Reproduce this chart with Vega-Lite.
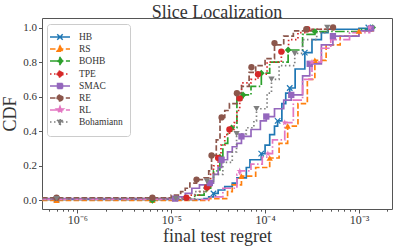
{
"$schema": "https://vega.github.io/schema/vega-lite/v6.json",
"width": 350, "height": 191,
"autosize": {"type": "none"},
"padding": {"left": 42, "top": 18, "right": 7, "bottom": 39},
"title": {"text": "Slice Localization", "fontSize": 18, "font": "Liberation Serif", "fontWeight": "normal", "color": "#333", "offset": -4, "frame": "group", "anchor": "middle"},
"config": {
  "font": "Liberation Serif",
  "view": {"stroke": "#555", "strokeWidth": 1},
  "axis": {"grid": false, "domain": false, "labelFont": "Liberation Serif", "titleFont": "Liberation Serif", "labelColor": "#333", "titleColor": "#333", "tickColor": "#555", "labelFontSize": 11, "titleFontSize": 18, "titleFontWeight": "normal"},
  "legend": {"labelFont": "Liberation Serif", "labelFontSize": 9.5, "labelColor": "#333"}
},
"datasets": {
"curves": [
{"s":"HB","x":4.2e-7,"y":0.005},{"s":"HB","x":1.58e-5,"y":0.005},{"s":"HB","x":2.24e-5,"y":0.01},{"s":"HB","x":2.51e-5,"y":0.02},{"s":"HB","x":2.82e-5,"y":0.04},{"s":"HB","x":3.16e-5,"y":0.06},{"s":"HB","x":3.72e-5,"y":0.08},{"s":"HB","x":4.47e-5,"y":0.10},{"s":"HB","x":5.01e-5,"y":0.13},{"s":"HB","x":6.31e-5,"y":0.19},{"s":"HB","x":6.9e-5,"y":0.235},{"s":"HB","x":9.1e-5,"y":0.27},{"s":"HB","x":1.0e-4,"y":0.32},{"s":"HB","x":1.12e-4,"y":0.38},{"s":"HB","x":1.26e-4,"y":0.43},{"s":"HB","x":1.36e-4,"y":0.46},{"s":"HB","x":1.51e-4,"y":0.56},{"s":"HB","x":1.66e-4,"y":0.62},{"s":"HB","x":1.83e-4,"y":0.65},{"s":"HB","x":2.09e-4,"y":0.76},{"s":"HB","x":2.65e-4,"y":0.855},{"s":"HB","x":3.16e-4,"y":0.93},{"s":"HB","x":3.98e-4,"y":0.97},{"s":"HB","x":4.68e-4,"y":0.99},{"s":"HB","x":1.0e-3,"y":0.995},{"s":"HB","x":1.26e-3,"y":1.0},
{"s":"RS","x":4.2e-7,"y":0.0},{"s":"RS","x":1.78e-5,"y":0.0},{"s":"RS","x":2.51e-5,"y":0.01},{"s":"RS","x":3.98e-5,"y":0.05},{"s":"RS","x":4.47e-5,"y":0.09},{"s":"RS","x":5.6e-5,"y":0.14},{"s":"RS","x":7.94e-5,"y":0.19},{"s":"RS","x":1.12e-4,"y":0.245},{"s":"RS","x":1.41e-4,"y":0.33},{"s":"RS","x":1.74e-4,"y":0.43},{"s":"RS","x":2.24e-4,"y":0.56},{"s":"RS","x":2.82e-4,"y":0.70},{"s":"RS","x":3.39e-4,"y":0.81},{"s":"RS","x":4.47e-4,"y":0.90},{"s":"RS","x":6.31e-4,"y":0.95},{"s":"RS","x":1.0e-3,"y":0.98},{"s":"RS","x":1.41e-3,"y":0.995},
{"s":"BOHB","x":4.2e-7,"y":0.005},{"s":"BOHB","x":1.26e-5,"y":0.005},{"s":"BOHB","x":1.78e-5,"y":0.03},{"s":"BOHB","x":2.24e-5,"y":0.05},{"s":"BOHB","x":2.4e-5,"y":0.07},{"s":"BOHB","x":2.63e-5,"y":0.12},{"s":"BOHB","x":2.82e-5,"y":0.17},{"s":"BOHB","x":3.3e-5,"y":0.25},{"s":"BOHB","x":3.55e-5,"y":0.33},{"s":"BOHB","x":4.0e-5,"y":0.40},{"s":"BOHB","x":4.4e-5,"y":0.42},{"s":"BOHB","x":5.01e-5,"y":0.58},{"s":"BOHB","x":5.83e-5,"y":0.61},{"s":"BOHB","x":7.08e-5,"y":0.66},{"s":"BOHB","x":9.12e-5,"y":0.736},{"s":"BOHB","x":1.12e-4,"y":0.80},{"s":"BOHB","x":1.76e-4,"y":0.87},{"s":"BOHB","x":2.51e-4,"y":0.96},{"s":"BOHB","x":3.39e-4,"y":0.977},{"s":"BOHB","x":1.0e-3,"y":0.99},{"s":"BOHB","x":1.4e-3,"y":1.0},
{"s":"TPE","x":4.2e-7,"y":0.01},{"s":"TPE","x":1.0e-5,"y":0.015},{"s":"TPE","x":1.58e-5,"y":0.03},{"s":"TPE","x":2.0e-5,"y":0.05},{"s":"TPE","x":2.4e-5,"y":0.075},{"s":"TPE","x":2.63e-5,"y":0.15},{"s":"TPE","x":2.82e-5,"y":0.2},{"s":"TPE","x":3.16e-5,"y":0.245},{"s":"TPE","x":3.39e-5,"y":0.32},{"s":"TPE","x":3.72e-5,"y":0.38},{"s":"TPE","x":4.17e-5,"y":0.41},{"s":"TPE","x":4.68e-5,"y":0.45},{"s":"TPE","x":5.01e-5,"y":0.52},{"s":"TPE","x":5.37e-5,"y":0.59},{"s":"TPE","x":5.62e-5,"y":0.68},{"s":"TPE","x":7.08e-5,"y":0.70},{"s":"TPE","x":8.41e-5,"y":0.73},{"s":"TPE","x":1.05e-4,"y":0.80},{"s":"TPE","x":1.49e-4,"y":0.86},{"s":"TPE","x":1.78e-4,"y":0.93},{"s":"TPE","x":2.24e-4,"y":0.97},{"s":"TPE","x":2.82e-4,"y":0.99},{"s":"TPE","x":5.0e-4,"y":1.0},
{"s":"SMAC","x":4.2e-7,"y":0.01},{"s":"SMAC","x":6.3e-6,"y":0.01},{"s":"SMAC","x":1.12e-5,"y":0.02},{"s":"SMAC","x":1.41e-5,"y":0.04},{"s":"SMAC","x":1.66e-5,"y":0.07},{"s":"SMAC","x":2.0e-5,"y":0.09},{"s":"SMAC","x":2.58e-5,"y":0.10},{"s":"SMAC","x":2.82e-5,"y":0.15},{"s":"SMAC","x":3.16e-5,"y":0.19},{"s":"SMAC","x":3.44e-5,"y":0.235},{"s":"SMAC","x":3.98e-5,"y":0.28},{"s":"SMAC","x":4.47e-5,"y":0.31},{"s":"SMAC","x":5.01e-5,"y":0.33},{"s":"SMAC","x":5.6e-5,"y":0.37},{"s":"SMAC","x":7.08e-5,"y":0.41},{"s":"SMAC","x":8.91e-5,"y":0.46},{"s":"SMAC","x":1.03e-4,"y":0.485},{"s":"SMAC","x":1.26e-4,"y":0.53},{"s":"SMAC","x":1.58e-4,"y":0.58},{"s":"SMAC","x":1.9e-4,"y":0.61},{"s":"SMAC","x":2.51e-4,"y":0.72},{"s":"SMAC","x":2.99e-4,"y":0.79},{"s":"SMAC","x":3.98e-4,"y":0.90},{"s":"SMAC","x":5.28e-4,"y":0.95},{"s":"SMAC","x":1.0e-3,"y":0.98},{"s":"SMAC","x":1.35e-3,"y":0.995},
{"s":"RE","x":4.2e-7,"y":0.015},{"s":"RE","x":6.3e-6,"y":0.015},{"s":"RE","x":1.0e-5,"y":0.03},{"s":"RE","x":1.26e-5,"y":0.05},{"s":"RE","x":1.41e-5,"y":0.07},{"s":"RE","x":1.58e-5,"y":0.10},{"s":"RE","x":1.86e-5,"y":0.12},{"s":"RE","x":2.24e-5,"y":0.13},{"s":"RE","x":2.51e-5,"y":0.17},{"s":"RE","x":2.69e-5,"y":0.26},{"s":"RE","x":3.02e-5,"y":0.35},{"s":"RE","x":3.31e-5,"y":0.48},{"s":"RE","x":3.72e-5,"y":0.52},{"s":"RE","x":4.17e-5,"y":0.56},{"s":"RE","x":5.01e-5,"y":0.62},{"s":"RE","x":5.62e-5,"y":0.66},{"s":"RE","x":6.76e-5,"y":0.74},{"s":"RE","x":7.94e-5,"y":0.78},{"s":"RE","x":1.0e-4,"y":0.82},{"s":"RE","x":1.26e-4,"y":0.90},{"s":"RE","x":1.58e-4,"y":0.95},{"s":"RE","x":2.0e-4,"y":0.98},{"s":"RE","x":3.16e-4,"y":0.99},{"s":"RE","x":5.3e-4,"y":1.0},
{"s":"RL","x":4.2e-7,"y":0.005},{"s":"RL","x":1.78e-5,"y":0.005},{"s":"RL","x":2.51e-5,"y":0.02},{"s":"RL","x":3.55e-5,"y":0.07},{"s":"RL","x":5.01e-5,"y":0.15},{"s":"RL","x":5.37e-5,"y":0.17},{"s":"RL","x":7.08e-5,"y":0.21},{"s":"RL","x":9.33e-5,"y":0.25},{"s":"RL","x":1.07e-4,"y":0.27},{"s":"RL","x":1.2e-4,"y":0.35},{"s":"RL","x":1.62e-4,"y":0.45},{"s":"RL","x":2.0e-4,"y":0.58},{"s":"RL","x":2.51e-4,"y":0.70},{"s":"RL","x":3.16e-4,"y":0.80},{"s":"RL","x":3.98e-4,"y":0.88},{"s":"RL","x":5.01e-4,"y":0.93},{"s":"RL","x":7.94e-4,"y":0.97},{"s":"RL","x":1.3e-3,"y":1.0},
{"s":"Bohamiann","x":4.2e-7,"y":0.01},{"s":"Bohamiann","x":1.26e-5,"y":0.01},{"s":"Bohamiann","x":1.78e-5,"y":0.05},{"s":"Bohamiann","x":2.24e-5,"y":0.09},{"s":"Bohamiann","x":2.4e-5,"y":0.11},{"s":"Bohamiann","x":2.82e-5,"y":0.15},{"s":"Bohamiann","x":3.55e-5,"y":0.22},{"s":"Bohamiann","x":4.47e-5,"y":0.28},{"s":"Bohamiann","x":4.97e-5,"y":0.385},{"s":"Bohamiann","x":6.31e-5,"y":0.42},{"s":"Bohamiann","x":7.6e-5,"y":0.46},{"s":"Bohamiann","x":8.1e-5,"y":0.53},{"s":"Bohamiann","x":1.05e-4,"y":0.62},{"s":"Bohamiann","x":1.17e-4,"y":0.70},{"s":"Bohamiann","x":1.41e-4,"y":0.78},{"s":"Bohamiann","x":2.07e-4,"y":0.85},{"s":"Bohamiann","x":2.51e-4,"y":0.93},{"s":"Bohamiann","x":3.55e-4,"y":0.97},{"s":"Bohamiann","x":4.6e-4,"y":1.0}
],
"markers": [
{"s":"HB","x":6.0e-7,"y":0.005},{"s":"HB","x":6.3e-6,"y":0.005},{"s":"HB","x":2.82e-5,"y":0.04},{"s":"HB","x":9.1e-5,"y":0.27},{"s":"HB","x":1.36e-4,"y":0.46},{"s":"HB","x":1.83e-4,"y":0.65},{"s":"HB","x":2.65e-4,"y":0.855},{"s":"HB","x":1.26e-3,"y":1.0},
{"s":"RS","x":6.0e-7,"y":0.0},{"s":"RS","x":6.3e-6,"y":0.0},{"s":"RS","x":5.6e-5,"y":0.14},{"s":"RS","x":1.12e-4,"y":0.245},{"s":"RS","x":1.74e-4,"y":0.43},{"s":"RS","x":3.39e-4,"y":0.81},{"s":"RS","x":1.0e-3,"y":0.98},
{"s":"BOHB","x":6.3e-6,"y":0.0},{"s":"BOHB","x":2.4e-5,"y":0.07},{"s":"BOHB","x":3.3e-5,"y":0.25},{"s":"BOHB","x":4.4e-5,"y":0.42},{"s":"BOHB","x":5.83e-5,"y":0.61},{"s":"BOHB","x":9.12e-5,"y":0.736},{"s":"BOHB","x":1.76e-4,"y":0.87},{"s":"BOHB","x":3.39e-4,"y":0.977},{"s":"BOHB","x":1.4e-3,"y":1.0},
{"s":"TPE","x":1.45e-5,"y":0.015},{"s":"TPE","x":2.4e-5,"y":0.075},{"s":"TPE","x":3.16e-5,"y":0.245},{"s":"TPE","x":4.17e-5,"y":0.41},{"s":"TPE","x":5.37e-5,"y":0.59},{"s":"TPE","x":8.41e-5,"y":0.73},{"s":"TPE","x":1.49e-4,"y":0.86},{"s":"TPE","x":2.82e-4,"y":0.99},
{"s":"SMAC","x":1.1e-5,"y":0.01},{"s":"SMAC","x":2.58e-5,"y":0.10},{"s":"SMAC","x":3.44e-5,"y":0.235},{"s":"SMAC","x":5.6e-5,"y":0.37},{"s":"SMAC","x":1.03e-4,"y":0.485},{"s":"SMAC","x":1.9e-4,"y":0.61},{"s":"SMAC","x":2.99e-4,"y":0.79},{"s":"SMAC","x":5.28e-4,"y":0.95},{"s":"SMAC","x":1.35e-3,"y":0.995},
{"s":"RE","x":6.0e-7,"y":0.015},{"s":"RE","x":6.3e-6,"y":0.015},{"s":"RE","x":1.86e-5,"y":0.12},{"s":"RE","x":2.69e-5,"y":0.26},{"s":"RE","x":3.44e-5,"y":0.48},{"s":"RE","x":5.01e-5,"y":0.62},{"s":"RE","x":7.16e-5,"y":0.77},{"s":"RE","x":1.26e-4,"y":0.91},{"s":"RE","x":2.75e-4,"y":0.99},{"s":"RE","x":5.3e-4,"y":1.0},
{"s":"RL","x":5.37e-5,"y":0.17},{"s":"RL","x":1.07e-4,"y":0.27},{"s":"RL","x":1.62e-4,"y":0.45},{"s":"RL","x":3.16e-4,"y":0.80},{"s":"RL","x":1.3e-3,"y":1.0},
{"s":"Bohamiann","x":6.0e-7,"y":0.01},{"s":"Bohamiann","x":1.12e-5,"y":0.01},{"s":"Bohamiann","x":2.4e-5,"y":0.11},{"s":"Bohamiann","x":4.97e-5,"y":0.385},{"s":"Bohamiann","x":8.1e-5,"y":0.53},{"s":"Bohamiann","x":1.17e-4,"y":0.70},{"s":"Bohamiann","x":2.07e-4,"y":0.85},{"s":"Bohamiann","x":4.6e-4,"y":1.0}
]
},
"encoding": {
  "x": {"field": "x", "type": "quantitative", "title": "final test regret",
    "scale": {"type": "log", "domain": [4.2e-7, 2.25e-3], "nice": false},
    "axis": {"values": [5e-7,6e-7,7e-7,8e-7,9e-7,1e-6,2e-6,3e-6,4e-6,5e-6,6e-6,7e-6,8e-6,9e-6,1e-5,2e-5,3e-5,4e-5,5e-5,6e-5,7e-5,8e-5,9e-5,1e-4,2e-4,3e-4,4e-4,5e-4,6e-4,7e-4,8e-4,9e-4,1e-3,2e-3],
      "labelExpr": "abs(log(datum.value)/LN10 - round(log(datum.value)/LN10)) < 0.001 ? ('10' + (round(log(datum.value)/LN10) == -6 ? '⁻⁶' : round(log(datum.value)/LN10) == -5 ? '⁻⁵' : round(log(datum.value)/LN10) == -4 ? '⁻⁴' : '⁻³')) : ''",
      "labelOverlap": false, "labelFlush": false, "labelFontSize": 12, "labelPadding": 1, "titlePadding": 2,
      "tickSize": {"condition": {"test": "abs(log(datum.value)/LN10 - round(log(datum.value)/LN10)) < 0.001", "value": 4}, "value": 2.2}}},
  "y": {"field": "y", "type": "quantitative", "title": "CDF",
    "scale": {"domain": [-0.05, 1.055], "nice": false, "zero": false},
    "axis": {"values": [0, 0.2, 0.4, 0.6, 0.8, 1.0], "format": ".1f", "tickSize": 3.5, "labelPadding": 2, "titlePadding": 3}},
  "color": {"field": "s", "type": "nominal",
    "scale": {"domain": ["HB","RS","BOHB","TPE","SMAC","RE","RL","Bohamiann"], "range": ["#1f77b4","#ff7f0e","#2ca02c","#d62728","#9467bd","#8c564b","#e377c2","#7f7f7f"]}}
},
"layer": [
  {"data": {"name": "markers"},
   "mark": {"type": "point", "filled": true, "size": 100, "strokeWidth": 1.5, "opacity": 0},
   "encoding": {
     "color": {"field": "s", "type": "nominal",
       "scale": {"domain": ["HB","RS","BOHB","TPE","SMAC","RE","RL","Bohamiann"], "range": ["#1f77b4","#ff7f0e","#2ca02c","#d62728","#9467bd","#8c564b","#e377c2","#7f7f7f"]},
       "legend": {"title": null, "orient": "none", "legendX": 5, "legendY": 6, "padding": 7, "labelOffset": 13, "rowPadding": -1.6, "symbolSize": 100, "symbolStrokeWidth": 1.5, "symbolOpacity": 1, "fillColor": "rgba(255,255,255,0.85)", "strokeColor": "#ccc", "cornerRadius": 3, "labelFontSize": 9.5}},
     "stroke": {"field": "s", "type": "nominal",
       "scale": {"domain": ["HB","RS","BOHB","TPE","SMAC","RE","RL","Bohamiann"], "range": ["#1f77b4","#ff7f0e","#2ca02c","#d62728","#9467bd","#8c564b","#e377c2","#7f7f7f"]}},
     "strokeDash": {"field": "s", "type": "nominal",
       "scale": {"domain": ["HB","RS","BOHB","TPE","SMAC","RE","RL","Bohamiann"], "range": [[1,0],[5.5,2.4],[9.6,2.4,1.5,2.4],[1.5,2.5],[1,0],[5.5,2.4],[9.6,2.4,1.5,2.4],[1.5,2.5]]}},
     "shape": {"field": "s", "type": "nominal",
       "scale": {"domain": ["HB","RS","BOHB","TPE","SMAC","RE","RL","Bohamiann"], "range": [
         "M-2,0H2M-0.55,-0.55L0.55,0.55M-0.55,0.55L0.55,-0.55",
         "M-2,0H2M0,-0.62L0.58,0.45L-0.58,0.45Z",
         "M-2,0H2M0,-0.7L0.5,0L0,0.7L-0.5,0Z",
         "M-2,0H2M0.58,0A0.58,0.58,0,1,1,-0.58,0A0.58,0.58,0,1,1,0.58,0Z",
         "M-2,0H2M-0.5,-0.5H0.5V0.5H-0.5Z",
         "M-2,0H2M0.58,0A0.58,0.58,0,1,1,-0.58,0A0.58,0.58,0,1,1,0.58,0Z",
         "M-2,0H2M0,-0.7L0.165,-0.227L0.666,-0.216L0.266,0.087L0.411,0.566L0,0.28L-0.411,0.566L-0.266,0.087L-0.666,-0.216L-0.165,-0.227Z",
         "M-2,0H2M0,0.62L0.58,-0.45L-0.58,-0.45Z"]}}
   }},
  {"data": {"name": "curves"},
   "mark": {"type": "line", "interpolate": "step-after", "strokeWidth": 1.7},
   "encoding": {"strokeDash": {"field": "s", "type": "nominal",
     "scale": {"domain": ["HB","RS","BOHB","TPE","SMAC","RE","RL","Bohamiann"], "range": [[1,0],[5.5,2.4],[9.6,2.4,1.5,2.4],[1.5,2.5],[1,0],[5.5,2.4],[9.6,2.4,1.5,2.4],[1.5,2.5]]}}}},
  {"data": {"name": "markers"}, "transform": [{"filter": "datum.s == 'HB'"}],
   "mark": {"type": "point", "shape": "M-1,-1L1,1M-1,1L1,-1", "filled": false, "size": 30, "strokeWidth": 1.2, "opacity": 1}},
  {"data": {"name": "markers"}, "transform": [{"filter": "datum.s == 'RS'"}],
   "mark": {"type": "point", "shape": "triangle-up", "filled": true, "size": 40, "opacity": 1}},
  {"data": {"name": "markers"}, "transform": [{"filter": "datum.s == 'BOHB'"}],
   "mark": {"type": "point", "shape": "diamond", "filled": true, "size": 45, "opacity": 1}},
  {"data": {"name": "markers"}, "transform": [{"filter": "datum.s == 'TPE'"}],
   "mark": {"type": "point", "shape": "circle", "filled": true, "size": 40, "opacity": 1}},
  {"data": {"name": "markers"}, "transform": [{"filter": "datum.s == 'SMAC'"}],
   "mark": {"type": "point", "shape": "square", "filled": true, "size": 40, "opacity": 1}},
  {"data": {"name": "markers"}, "transform": [{"filter": "datum.s == 'RE'"}],
   "mark": {"type": "point", "shape": "circle", "filled": true, "size": 40, "opacity": 1}},
  {"data": {"name": "markers"}, "transform": [{"filter": "datum.s == 'RL'"}],
   "mark": {"type": "point", "shape": "M0,-1L0.235,-0.324L0.951,-0.309L0.38,0.124L0.588,0.809L0,0.4L-0.588,0.809L-0.38,0.124L-0.951,-0.309L-0.235,-0.324Z", "filled": true, "size": 45, "opacity": 1}},
  {"data": {"name": "markers"}, "transform": [{"filter": "datum.s == 'Bohamiann'"}],
   "mark": {"type": "point", "shape": "triangle-down", "filled": true, "size": 40, "opacity": 1}}
]
}
